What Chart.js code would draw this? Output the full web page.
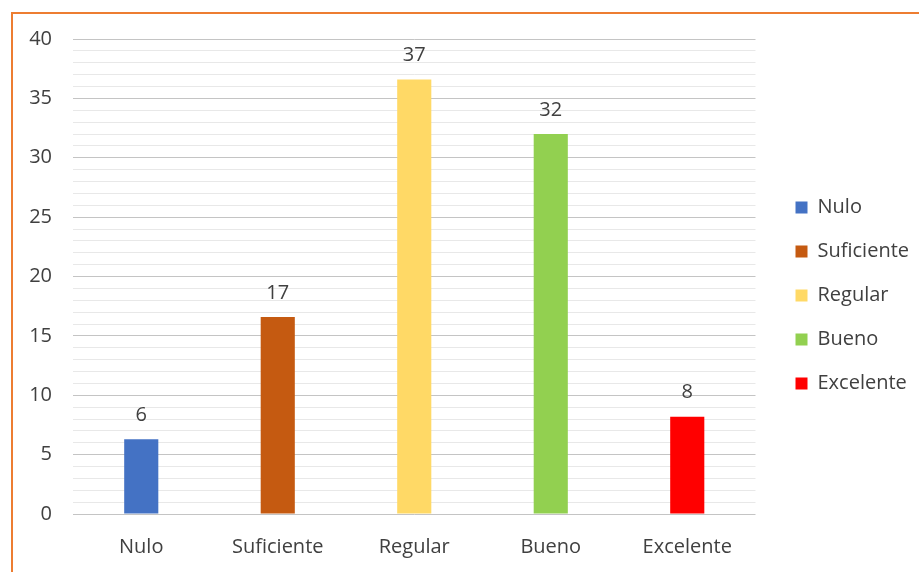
<!DOCTYPE html>
<html>
<head>
<meta charset="utf-8">
<script src="https://cdn.jsdelivr.net/npm/chart.js@4.4.0/dist/chart.umd.min.js"></script>
<style>
  body { margin: 0; background: #fff; }
  #frame { position: absolute; left: 11px; top: 12px; width: 920px; height: 570px;
           border-left: 2px solid #ED7D31; border-top: 2px solid #ED7D31; }
  #wrap { position: absolute; left: 0; top: 0; width: 919px; height: 572px; }
</style>
</head>
<body>
<div id="frame"></div>
<div id="wrap"><canvas id="chart"></canvas></div>
<script>
const categories = ["Nulo", "Suficiente", "Regular", "Bueno", "Excelente"];
const values = [6.3, 16.6, 36.6, 32.0, 8.2];
const colors = ["#4472C4", "#C55A11", "#FFD966", "#92D050", "#FF0000"];

const fontFamily = "'Open Sans', Lato, sans-serif";
const textColor = "#404040";

// value labels above each bar
const barLabels = {
  id: "barLabels",
  afterDatasetsDraw(chart) {
    const ctx = chart.ctx;
    const meta = chart.getDatasetMeta(0);
    ctx.save();
    ctx.font = "20px " + fontFamily;
    ctx.fillStyle = textColor;
    ctx.textAlign = "center";
    ctx.textBaseline = "middle";
    meta.data.forEach((bar, i) => {
      ctx.fillText(Math.round(values[i]), bar.x, bar.y - 24);
    });
    ctx.restore();
  }
};

// nudge legend up a little so it sits like the original
const legendShift = {
  id: "legendShift",
  afterLayout(chart) {
    chart.legend.top -= 10;
    chart.legend.bottom -= 10;
  }
};

new Chart(document.getElementById("chart"), {
  type: "bar",
  data: {
    labels: categories,
    datasets: [{
      data: values,
      backgroundColor: colors,
      borderWidth: 0,
      barPercentage: 0.25,
      categoryPercentage: 1
    }]
  },
  options: {
    responsive: true,
    maintainAspectRatio: false,
    animation: false,
    layout: { padding: { left: 7, top: 39, right: 0, bottom: 0 } },
    plugins: {
      tooltip: { enabled: false },
      legend: {
        position: "right",
        labels: {
          boxWidth: 12,
          boxHeight: 12,
          padding: 24,
          color: textColor,
          font: { family: fontFamily, size: 20 },
          generateLabels: () => categories.map((c, i) => ({
            text: c,
            fillStyle: colors[i],
            strokeStyle: colors[i],
            lineWidth: 0,
            fontColor: textColor,
            index: i
          }))
        }
      }
    },
    scales: {
      x: {
        grid: { display: false, drawTicks: false },
        border: { display: false },
        afterFit: (s) => { s.height = 58; },
        ticks: { color: textColor, padding: 21, font: { family: fontFamily, size: 20 } }
      },
      y: {
        min: 0,
        max: 40,
        border: { display: false },
        afterFit: (s) => { s.width = 66; },
        grid: {
          drawTicks: false,
          color: (c) => (c.tick && c.tick.value % 5 === 0) ? "#c4c4c4" : "#e8e8e8"
        },
        ticks: {
          stepSize: 1,
          autoSkip: false,
          padding: 21,
          color: textColor,
          font: { family: fontFamily, size: 20 },
          callback: (v) => (v % 5 === 0 ? v : "")
        }
      },
      gap: {
        position: "right",
        grid: { display: false, drawTicks: false },
        border: { display: false },
        ticks: { display: false },
        afterFit: (s) => { s.width = 16; }
      }
    }
  },
  plugins: [barLabels, legendShift]
});
</script>
</body>
</html>
